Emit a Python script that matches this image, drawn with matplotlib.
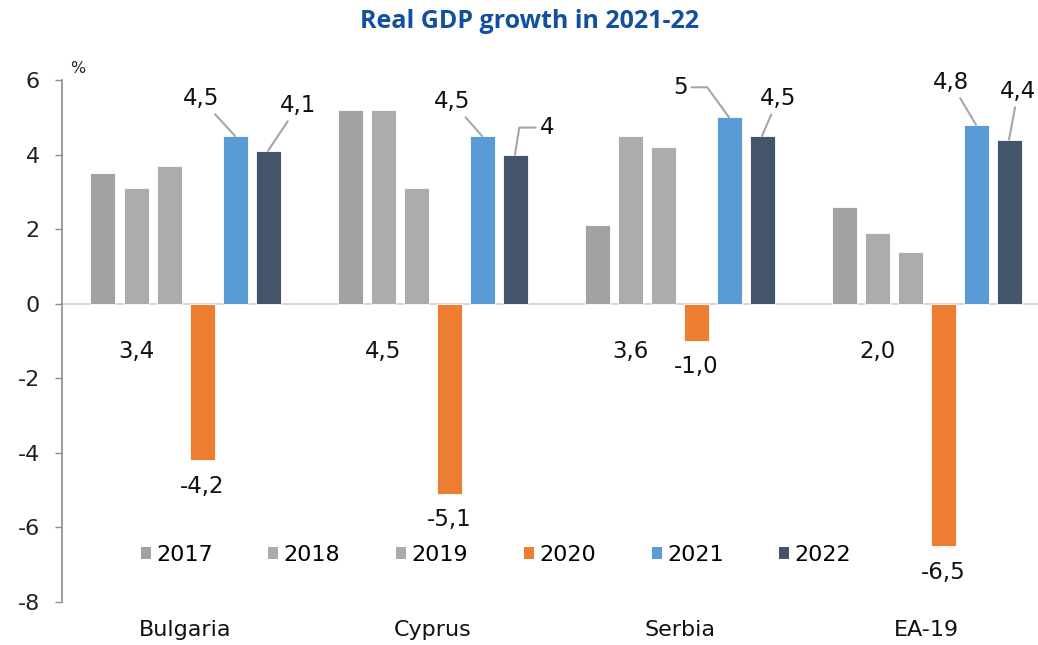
import matplotlib
matplotlib.use("Agg")
import matplotlib.pyplot as plt
from matplotlib.patches import Patch

# ---- data ----
countries = ["Bulgaria", "Cyprus", "Serbia", "EA-19"]
years = ["2017", "2018", "2019", "2020", "2021", "2022"]
y2017 = [3.5, 5.2, 2.1, 2.6]
y2018 = [3.1, 5.2, 4.5, 1.9]
y2019 = [3.7, 3.1, 4.2, 1.4]
y2020 = [-4.2, -5.1, -1.0, -6.5]
y2021 = [4.5, 4.5, 5.0, 4.8]
y2022 = [4.1, 4.0, 4.5, 4.4]
labels2020 = ["-4,2", "-5,1", "-1,0", "-6,5"]
labels2021 = ["4,5", "4,5", "5", "4,8"]
labels2022 = ["4,1", "4", "4,5", "4,4"]
avg_labels = ["3,4", "4,5", "3,6", "2,0"]   # 2017-19 averages
yticks = [-8, -6, -4, -2, 0, 2, 4, 6]

# ---- style ----
colors = ["#A2A2A2", "#AEABAB", "#AEABAB", "#ED7D31", "#5B9BD5", "#44546A"]
off2021 = [(-34, 37), (-30, 34), (-49, 30), (-25, 42)]
off2022 = [(30, 45), (32, 27), (16, 37), (9, 48)]
elbow2021 = [False, False, True, False]
elbow2022 = [False, True, False, False]
font = "DejaVu Sans"
plt.rcParams["font.family"] = [font]

W, H = 1038, 645
fig = plt.figure(figsize=(W / 100, H / 100), dpi=100)
ax = fig.add_axes([62 / W, 1 - 602 / H, 1 - 62 / W, (602 - 80) / H])

series = [y2017, y2018, y2019, y2020, y2021, y2022]
step = 33 / 247
width = 25 / 247
xs = list(range(len(countries)))
for j, vals in enumerate(series):
    pos = [x + (j - 2.5) * step for x in xs]
    ax.bar(pos, vals, width=width, color=colors[j], edgecolor="white",
           linewidth=0.6, zorder=3, label=years[j])

ax.set_xlim(-0.5, -0.5 + (W - 62) / 247)
ax.set_ylim(-8, 6)
ax.set_yticks(yticks)
ax.set_yticklabels([str(t) for t in yticks], fontsize=16, color="#222222")
ax.tick_params(axis="y", direction="out", length=5, width=1, color="#8C8C8C", pad=11)
ax.set_xticks(xs)
ax.set_xticklabels(countries, fontsize=16, color="#111111")
ax.tick_params(axis="x", length=0, pad=13)
for s in ["top", "right", "bottom"]:
    ax.spines[s].set_visible(False)
ax.spines["left"].set_color("#8C8C8C")
ax.spines["left"].set_linewidth(1.2)
ax.axhline(0, color="#D0D0D0", linewidth=1.2, zorder=2)

lc = "#A6A6A6"
def leader(x, v, txt, off, elbow):
    if elbow:
        if off[0] < 0:
            cs = "angle,angleA=0,angleB=126,rad=0"
        else:
            cs = "angle,angleA=180,angleB=81,rad=0"
    else:
        cs = "arc3"
    ax.annotate(txt, xy=(x, v), xytext=off, textcoords="offset pixels",
                ha="center", va="center", fontsize=16.5, color="#111111",
                arrowprops=dict(arrowstyle="-", color=lc, lw=1.5,
                                connectionstyle=cs, shrinkA=1, shrinkB=0),
                zorder=5)

for i in xs:
    leader(i + 1.5 * step, y2021[i], labels2021[i], off2021[i], elbow2021[i])
    leader(i + 2.5 * step, y2022[i], labels2022[i], off2022[i], elbow2022[i])
    ax.annotate(labels2020[i], xy=(i + 0.5 * step, y2020[i]), xytext=(0, -26),
                textcoords="offset pixels", ha="center", va="center",
                fontsize=16.5, color="#111111")
    ax.annotate(avg_labels[i], xy=(i - 1.5 * step, 0), xytext=(0, -48),
                textcoords="offset pixels", ha="center", va="center",
                fontsize=16.5, color="#111111")

ax.text(-0.5 + 16 / 247, 6.1, "%", fontsize=11.5, color="#222222",
        ha="center", va="bottom")

handles = [Patch(facecolor=c, edgecolor="none") for c in colors]
fig.legend(handles, years, loc="center", bbox_to_anchor=(496 / W, 1 - 555 / H),
           ncol=6, frameon=False, fontsize=16, handlelength=0.45, handleheight=0.45,
           handletextpad=0.25, columnspacing=2.5)

fig.text(530 / W, 1 - 21 / H, "Real GDP growth in 2021-22", ha="center", va="center",
         fontsize=18, fontweight="bold", color="#10509E", family="Open Sans")

fig.savefig("out.png", dpi=100)
